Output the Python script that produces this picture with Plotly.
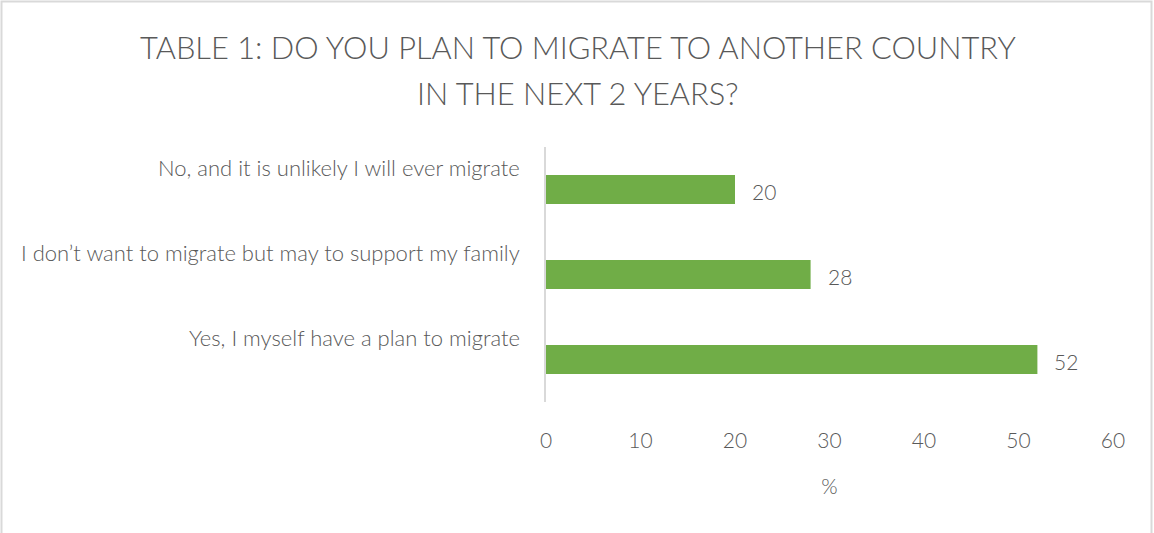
import plotly.graph_objects as go

categories = ["Yes, I myself have a plan to migrate",
              "I don\u2019t want to migrate but may to support my family",
              "No, and it is unlikely I will ever migrate"]
values = [52, 28, 20]
title_lines = ["TABLE 1: DO YOU PLAN TO MIGRATE TO ANOTHER COUNTRY", "IN THE NEXT 2 YEARS?"]
x_ticks = [0, 10, 20, 30, 40, 50, 60]
x_title = "%"

W, H = 1154, 533
L, R, T, B = 546, 41, 147, 131
FONT = "Lato"
GREY = "#595959"
WT = 300

fig = go.Figure()
fig.add_trace(go.Bar(
    y=categories, x=values, orientation="h",
    marker=dict(color="#70AD47", line=dict(width=0)),
    width=0.34, hoverinfo="x+y",
))

pw, ph = W - L - R, H - T - B

annotations = []
for c, v in zip(categories, values):
    annotations.append(dict(x=v, y=c, xref="x", yref="y", text=str(v), showarrow=False,
                            xanchor="left", xshift=15, yshift=-2,
                            font=dict(family=FONT, size=21, color=GREY, weight=WT)))
    annotations.append(dict(x=0, y=c, xref="paper", yref="y", text=c, showarrow=False,
                            xanchor="right", xshift=-24, yshift=22,
                            font=dict(family=FONT, size=22, color=GREY, weight=WT)))

title_centers = [47, 93]
for line, yc in zip(title_lines, title_centers):
    annotations.append(dict(x=(578 - L) / pw, y=(H - B - yc) / ph, xref="paper", yref="paper",
                            text=line, showarrow=False, xanchor="center", yanchor="middle",
                            font=dict(family=FONT, size=30.8, color=GREY, weight=WT)))

fig.update_layout(
    width=W, height=H,
    margin=dict(l=L, r=R, t=T, b=B),
    paper_bgcolor="white", plot_bgcolor="white",
    showlegend=False,
    xaxis=dict(range=[0, 60], tickvals=x_ticks, showgrid=False, zeroline=False, showline=False,
               ticks="", ticklabelstandoff=24,
               tickfont=dict(family=FONT, size=21, color=GREY, weight=WT),
               title=dict(text=x_title, standoff=28, font=dict(family=FONT, size=21, color=GREY, weight=WT)),
               fixedrange=True),
    yaxis=dict(showticklabels=False, showgrid=False, zeroline=False, showline=True,
               linecolor="#D9D9D9", linewidth=2, ticks="", fixedrange=True),
    annotations=annotations,
    shapes=[dict(type="rect", xref="paper", yref="paper",
                 x0=(1.5 - L) / pw, x1=(W - 2.5 - L) / pw,
                 y0=(B - (H - 2.5)) / ph, y1=(H - 1.5 - B) / ph,
                 line=dict(color="#D9D9D9", width=2), layer="below")],
)

fig.write_html("out.html")
